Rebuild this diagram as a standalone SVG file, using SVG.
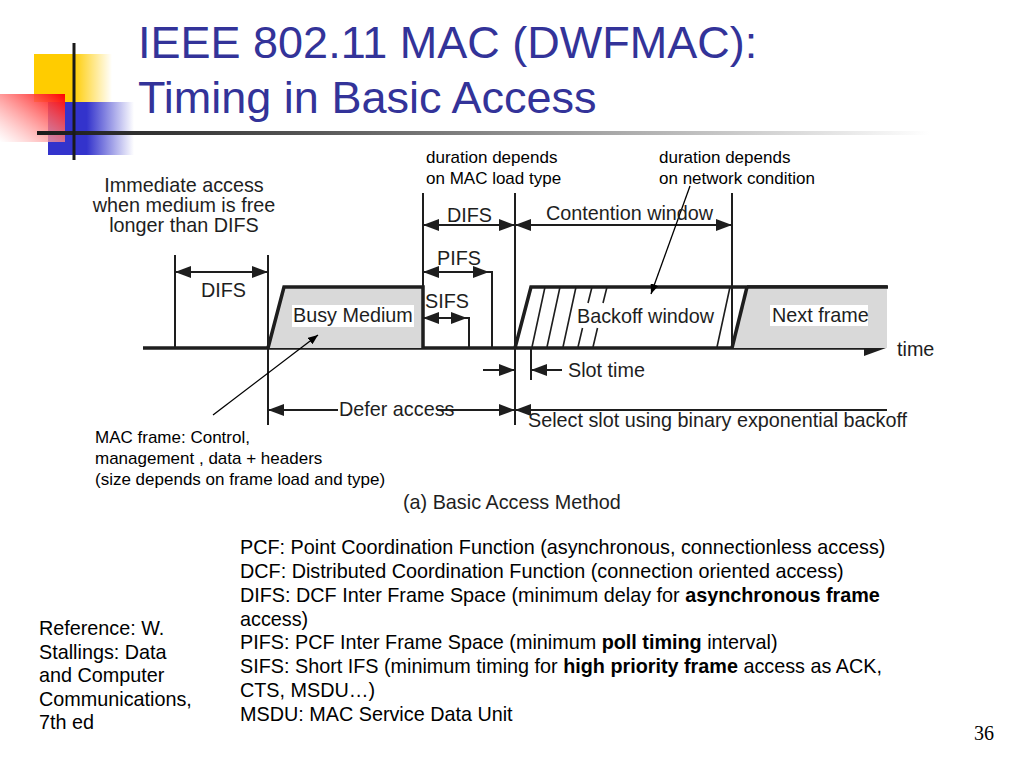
<svg xmlns="http://www.w3.org/2000/svg" width="1024" height="768" viewBox="0 0 1024 768">
<defs>
<style>
.ttl{font-family:"Liberation Sans",Arial,sans-serif;font-size:45px;fill:#333399}
.fig{font-family:"Liberation Sans",Arial,sans-serif;font-size:19.8px;fill:#1e1e1e}
.ann{font-family:"Liberation Sans",Arial,sans-serif;font-size:17px;fill:#000}
.body{font-family:"Liberation Sans",Arial,sans-serif;font-size:19.8px;fill:#000}
.thin{stroke:#1e1e1e;stroke-width:2;fill:none}
.thick{stroke:#1e1e1e;stroke-width:3.5;fill:none}
.hatch{stroke:#1e1e1e;stroke-width:1.6;fill:none}
.arr{stroke:#1e1e1e;stroke-width:2;fill:none;marker-start:url(#ah);marker-end:url(#ah)}
.arr1{stroke:#1e1e1e;stroke-width:2;fill:none;marker-end:url(#ah)}
.ptr{stroke:#000;stroke-width:1.3;fill:none;marker-end:url(#sa)}
</style>
<marker id="ah" viewBox="0 0 16 12" refX="16" refY="6" markerWidth="16" markerHeight="12" markerUnits="userSpaceOnUse" orient="auto-start-reverse"><path d="M0,0 L16,6 L0,12 z" fill="#1e1e1e"/></marker>
<marker id="sa" viewBox="0 0 10 8" refX="10" refY="4" markerWidth="10" markerHeight="8" markerUnits="userSpaceOnUse" orient="auto"><path d="M0,0 L10,4 L0,8 z" fill="#000"/></marker>
<linearGradient id="gy" x1="0" y1="0" x2="1" y2="0"><stop offset="0" stop-color="#ffcc00"/><stop offset="0.5" stop-color="#ffcc00"/><stop offset="1" stop-color="#ffcc00" stop-opacity="0"/></linearGradient>
<linearGradient id="gb" x1="0" y1="0" x2="1" y2="0"><stop offset="0" stop-color="#3333cc"/><stop offset="0.45" stop-color="#3333cc"/><stop offset="1" stop-color="#3333cc" stop-opacity="0"/></linearGradient>
<linearGradient id="gr" x1="1" y1="0" x2="0" y2="1"><stop offset="0" stop-color="#ff0000"/><stop offset="1" stop-color="#ffffff" stop-opacity="0.6"/></linearGradient>
<linearGradient id="gl" x1="0" y1="0" x2="1" y2="0"><stop offset="0" stop-color="#1a1a1a"/><stop offset="0.3" stop-color="#555"/><stop offset="1" stop-color="#ffffff"/></linearGradient>
</defs>
<rect width="1024" height="768" fill="#fff"/>

<g id="logo">
<rect x="34" y="54" width="78" height="48" fill="url(#gy)"/>
<rect x="48" y="102" width="86" height="53" fill="url(#gb)"/>
<rect x="0" y="94" width="65" height="48" fill="url(#gr)"/>
<rect x="37" y="131" width="893" height="4" fill="url(#gl)"/>
<line x1="74" y1="43" x2="74" y2="160" stroke="#1a1a1a" stroke-width="3"/>
</g>

<g id="title">
<text class="ttl" x="138" y="58">IEEE 802.11 MAC (DWFMAC):</text>
<text class="ttl" x="138" y="113">Timing in Basic Access</text>
</g>

<g id="timeline">
<path class="thick" d="M143,348 H866"/>
<path d="M864,340 L886,348 L864,356 z" fill="#1e1e1e"/>
<text class="fig" x="897" y="356">time</text>
</g>

<g id="busy-medium">
<path d="M268,348 L284,287 H423 V348 z" fill="#d9d9d9"/>
<path class="thick" d="M268,348 L284,287 H423 V348"/>
<rect x="292" y="305" width="122" height="22" fill="#fff"/>
<text class="fig" x="293" y="322">Busy Medium</text>
</g>

<g id="backoff-window">
<path class="thick" d="M515,348 L531,287 H888"/>
<path class="hatch" d="M532,347 L545,287 M547,347 L560,287 M563,347 L576,287 M578,347 L582.5,328 M588,303 L592,287 M593,347 L597.5,328 M603,303 L607,287 M717,347 L730,287"/>
<text class="fig" x="577" y="323">Backoff window</text>
</g>

<g id="next-frame">
<path d="M732,348 L747,287 H887 V348 z" fill="#d9d9d9"/>
<path class="thick" d="M732,348 L747,287"/>
<path class="thick" d="M747,287 H887"/>
<rect x="770" y="305" width="98" height="21" fill="#fff"/>
<text class="fig" x="772" y="322">Next frame</text>
</g>

<g id="connectors">
<path class="thin" d="M175,255 V348 M268,255 V425 M423,193 V348 M515,193 V425 M732,193 V348 M531,348 V380"/>
<path class="thin" d="M488,272 H492 V348 M466,318 H469 V348"/>
<line class="arr" x1="175" y1="272" x2="268" y2="272"/>
<line class="arr" x1="423" y1="225" x2="515" y2="225"/>
<line class="arr" x1="515" y1="225" x2="732" y2="225"/>
<line class="arr" x1="423" y1="272" x2="489" y2="272"/>
<line class="arr" x1="423" y1="318" x2="467" y2="318"/>
<line class="arr1" x1="483" y1="370" x2="515" y2="370"/>
<line class="arr1" x1="562" y1="370" x2="531" y2="370"/>
<line class="arr1" x1="338" y1="410" x2="268" y2="410"/>
<line class="arr1" x1="437" y1="410" x2="515" y2="410"/>
<line class="arr1" x1="887" y1="410" x2="515" y2="410"/>
<line class="ptr" x1="213" y1="415" x2="318" y2="335"/>
<line class="ptr" x1="690" y1="186" x2="651" y2="294"/>
</g>

<g id="figure-labels">
<text class="fig" text-anchor="middle" x="184" y="192">Immediate access</text>
<text class="fig" text-anchor="middle" x="184" y="212">when medium is free</text>
<text class="fig" text-anchor="middle" x="184" y="232">longer than DIFS</text>
<text class="fig" x="201" y="297">DIFS</text>
<text class="fig" x="447" y="222">DIFS</text>
<text class="fig" x="546" y="220">Contention window</text>
<text class="fig" x="437" y="265">PIFS</text>
<text class="fig" x="425" y="308">SIFS</text>
<text class="fig" x="568" y="377">Slot time</text>
<text class="fig" x="339" y="416">Defer access</text>
<text class="fig" x="528" y="427">Select slot using binary exponential backoff</text>
<text class="fig" x="403" y="509">(a) Basic Access Method</text>
</g>

<g id="annotations">
<text class="ann" x="426" y="163">duration depends</text>
<text class="ann" x="426" y="184">on MAC load type</text>
<text class="ann" x="659" y="163">duration depends</text>
<text class="ann" x="659" y="184">on network condition</text>
<text class="ann" x="95" y="443">MAC frame: Control,</text>
<text class="ann" x="95" y="464">management , data + headers</text>
<text class="ann" x="95" y="485">(size depends on frame load and type)</text>
</g>

<g id="definitions">
<text class="body" x="240" y="554">PCF: Point Coordination Function (asynchronous, connectionless access)</text>
<text class="body" x="240" y="578">DCF: Distributed Coordination Function (connection oriented access)</text>
<text class="body" x="240" y="602">DIFS: DCF Inter Frame Space (minimum delay for <tspan font-weight="bold">asynchronous frame</tspan></text>
<text class="body" x="240" y="626">access)</text>
<text class="body" x="240" y="649">PIFS: PCF Inter Frame Space (minimum <tspan font-weight="bold">poll timing</tspan> interval)</text>
<text class="body" x="240" y="673">SIFS: Short IFS (minimum timing for <tspan font-weight="bold">high priority frame</tspan> access as ACK,</text>
<text class="body" x="240" y="697">CTS, MSDU…)</text>
<text class="body" x="240" y="721">MSDU: MAC Service Data Unit</text>
</g>

<g id="reference">
<text class="body" x="39" y="635">Reference: W.</text>
<text class="body" x="39" y="659">Stallings: Data</text>
<text class="body" x="39" y="682">and Computer</text>
<text class="body" x="39" y="706">Communications,</text>
<text class="body" x="39" y="729">7th ed</text>
</g>

<text x="974" y="740" font-family="Liberation Serif, serif" font-size="20" fill="#000">36</text>
</svg>
